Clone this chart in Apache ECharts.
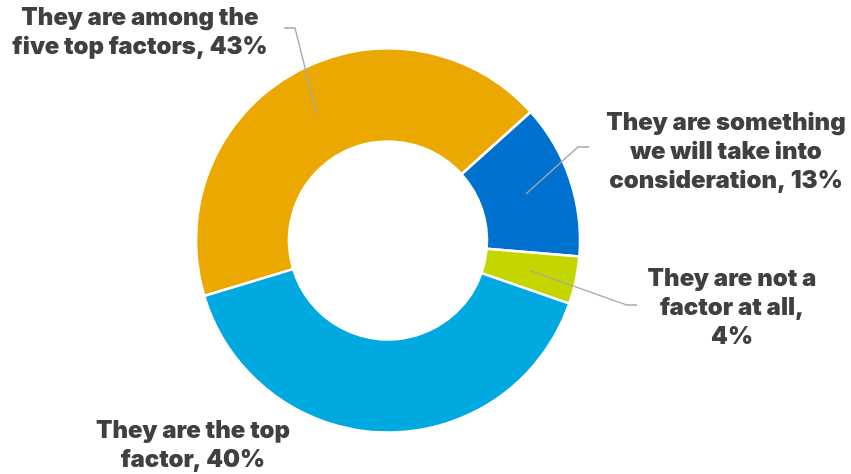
<!DOCTYPE html>
<html>
<head>
<meta charset="utf-8">
<script src="https://cdn.jsdelivr.net/npm/echarts@6.0.0/dist/echarts.min.js"></script>
<style>
  html, body { margin: 0; padding: 0; background: #ffffff; }
  #chart { width: 851px; height: 474px; }
</style>
</head>
<body>
<div id="chart"></div>
<script>
// Survey answers and their shares (%)
const categories = [
  'They are among the five top factors',
  'They are something we will take into consideration',
  'They are not a factor at all',
  'They are the top factor'
];
const values = [43, 13, 4, 40];
const colors = ['#EBA800', '#0071CE', '#C4D600', '#00A9E0'];

// Wrapped label lines; {v} is replaced with the slice value
const labelTemplates = [
  ['They are among the', 'five top factors, {v}%'],
  ['They are something', 'we will take into', 'consideration, {v}%'],
  ['They are not a', 'factor at all,', '{v}%'],
  ['They are the top', 'factor, {v}%']
];

// Geometry of the ring
const CENTER = [388, 240.5];
const R_IN = 99, R_OUT = 192;
const START_ANGLE = 196.8; // degrees, counter-clockwise from 3 o'clock

// Label block centres and leader-line elbows (null = no leader)
const labelPos = [[140, 32], [726, 152], [732, 308], [193, 445]];
const leaderEnds = [
  [[295, 28], [284, 28]],
  [[578, 147], [589, 147]],
  [[627, 305], [637, 305]],
  null
];

// Mid-point of each ring segment, used as the leader-line anchor
const total = values.reduce((a, b) => a + b, 0);
const anchors = [];
let acc = 0;
values.forEach(v => {
  const mid = START_ANGLE - (acc + v / 2) / total * 360;
  const rad = mid * Math.PI / 180;
  const r = (R_IN + R_OUT) / 2;
  anchors.push([CENTER[0] + r * Math.cos(rad), CENTER[1] - r * Math.sin(rad)]);
  acc += v;
});

// Leader lines drawn on top of the ring
const leaders = [];
leaderEnds.forEach((ends, i) => {
  if (!ends) return;
  leaders.push({
    type: 'polyline',
    z: 100,
    silent: true,
    shape: { points: [anchors[i], ends[0], ends[1]] },
    style: { stroke: '#A6A6A6', lineWidth: 1.3, fill: null }
  });
});

const chart = echarts.init(document.getElementById('chart'), null, { renderer: 'canvas' });

chart.setOption({
  animation: false,
  backgroundColor: '#ffffff',
  graphic: leaders,
  series: [{
    type: 'pie',
    center: CENTER,
    radius: [R_IN, R_OUT],
    startAngle: START_ANGLE,
    clockwise: true,
    avoidLabelOverlap: false,
    silent: true,
    itemStyle: { borderColor: '#ffffff', borderWidth: 2.5 },
    label: {
      show: true,
      position: 'outside',
      fontFamily: 'Inter',
      fontWeight: 900,
      fontSize: 24,
      lineHeight: 29,
      color: '#404040',
      align: 'center',
      formatter: p => labelTemplates[p.dataIndex].join('\n').replace('{v}', p.value)
    },
    labelLine: { show: false },
    labelLayout: params => {
      const i = params.dataIndex;
      return {
        x: labelPos[i][0],
        y: labelPos[i][1],
        align: 'center',
        verticalAlign: 'middle',
        hideOverlap: false,
        moveOverlap: false
      };
    },
    data: categories.map((name, i) => ({
      name: name,
      value: values[i],
      itemStyle: { color: colors[i] }
    }))
  }]
});
</script>
</body>
</html>
